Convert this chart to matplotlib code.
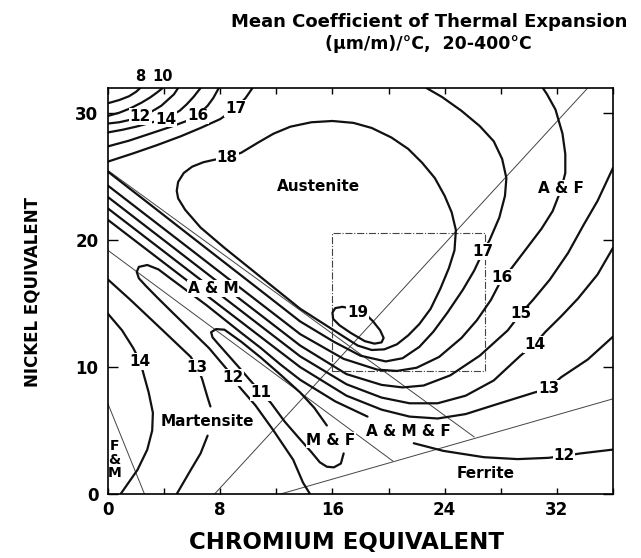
import matplotlib.pyplot as plt

plt.rcParams['font.family'] = ['DejaVu Sans']
plt.rcParams['font.weight'] = 'bold'

# iso-expansion lines, (Cr eq, Ni eq) points
c8_x = [0, 0.8, 1.5, 2.0, 2.3]
c8_y = [30.8, 31.05, 31.35, 31.7, 32.0]
c10_x = [0, 0.8, 1.6, 2.4, 3.0, 3.5, 3.9]
c10_y = [29.8, 30.05, 30.4, 30.85, 31.25, 31.65, 32.0]
c12_top_x = [0, 0.8, 1.6, 2.4, 3.2, 3.8, 4.3, 4.7, 5.0]
c12_top_y = [29.2, 29.3, 29.5, 29.8, 30.2, 30.6, 31.1, 31.5, 32.0]
c14_top_x = [0, 1.0, 2.0, 3.0, 4.1, 5.1, 5.6, 6.1, 6.6]
c14_top_y = [28.5, 28.7, 28.95, 29.25, 29.6, 30.2, 30.7, 31.3, 32.0]
c16_top_x = [0, 1.5, 3.0, 4.5, 5.6, 6.4, 7.1, 7.5, 7.9]
c16_top_y = [27.4, 27.85, 28.4, 28.95, 29.4, 29.85, 30.6, 31.2, 32.0]
c17_top_x = [0, 1.8, 3.5, 5.2, 6.6, 8.0, 9.1, 9.8, 10.3]
c17_top_y = [26.2, 26.85, 27.5, 28.2, 28.85, 29.55, 30.4, 31.2, 32.0]

c18_x = [8.5, 9.5, 10.7, 11.8, 13.0, 14.5, 16.0, 17.5, 18.8, 20.2, 21.4, 22.4, 23.3, 24.0, 24.5,
         24.8, 24.7, 24.3, 23.7, 23.0, 22.2, 21.4, 20.6, 19.7, 18.8, 17.8, 16.1, 13.7, 10.1, 8.3,
         6.6, 5.5, 5.0, 4.9, 5.0, 5.4, 6.0, 6.8, 7.6, 8.5]
c18_y = [26.5, 26.9, 27.7, 28.4, 28.95, 29.3, 29.4, 29.25, 28.85, 28.1, 27.2, 26.1, 24.9, 23.5, 22.2,
         20.8, 19.2, 17.8, 16.2, 14.6, 13.4, 12.5, 11.8, 11.4, 11.35, 11.7, 12.9, 14.6, 17.8, 19.4,
         21.0, 22.4, 23.3, 23.9, 24.6, 25.3, 25.8, 26.15, 26.35, 26.5]
c19_x = [16.7, 17.5, 18.3, 18.9, 19.4, 19.65, 19.5, 19.0, 18.3, 17.3, 16.5, 16.05, 16.0, 16.2, 16.7]
c19_y = [14.75, 14.6, 14.25, 13.6, 12.9, 12.3, 11.95, 11.85, 12.05, 12.7, 13.3, 13.8, 14.3, 14.65, 14.75]

c17_x = [0, 3, 6, 9, 11.5, 13.7, 16.1, 18.0, 19.8, 21.0, 22.2, 23.2, 24.2, 25.3, 26.1, 26.7, 27.2,
         27.9, 28.3, 28.4, 28.1, 27.5, 26.5, 25.2, 23.8, 22.7]
c17_y = [25.4, 22.82, 20.23, 17.65, 15.5, 13.6, 12.0, 10.9, 10.45, 10.7, 11.6, 12.8, 14.3, 16.1, 17.6,
         19.0, 20.0, 21.8, 23.5, 24.9, 26.4, 27.8, 29.0, 30.2, 31.3, 32.0]
c16_x = [0, 3, 6, 9, 11.5, 13.7, 16.8, 19.2, 20.6, 22.0, 23.6, 25.2, 26.3, 27.3, 28.1, 28.7, 29.8,
         30.9, 31.7, 32.3, 32.6, 32.6, 32.4, 31.9, 31.3, 31.0]
c16_y = [24.3, 21.74, 19.18, 16.61, 14.48, 12.6, 10.65, 9.8, 9.7, 9.95, 10.8, 12.3, 13.7, 15.3, 17.0,
         17.7, 19.3, 20.9, 22.3, 24.0, 25.3, 26.8, 28.4, 30.3, 31.5, 32.0]
c15_x = [0, 3, 6, 9, 11.5, 13.7, 17.0, 19.5, 21.0, 22.5, 24.4, 26.5, 28.5, 29.4, 30.3, 31.5, 32.8,
         33.9, 34.9, 36.0]
c15_y = [23.4, 20.84, 18.28, 15.71, 13.58, 11.7, 9.45, 8.6, 8.4, 8.55, 9.35, 10.9, 12.9, 14.2, 15.3,
         16.9, 19.0, 21.2, 23.1, 25.7]
c14_x = [0, 3, 6, 9, 11.5, 13.7, 17.0, 19.5, 21.5, 23.5, 25.5, 27.5, 29.4, 30.4, 31.2, 32.3, 33.5,
         34.9, 36.0]
c14_y = [22.5, 19.95, 17.4, 14.85, 12.72, 10.85, 8.65, 7.6, 7.15, 7.15, 7.75, 8.95, 10.9, 11.8, 12.8,
         14.0, 15.4, 17.3, 19.4]
c13_x = [0, 3, 6, 9, 11.5, 13.7, 17.0, 19.5, 21.5, 23.5, 25.5, 27.5, 30.4, 31.4, 32.3, 34.2, 36.0]
c13_y = [21.6, 19.06, 16.52, 13.98, 11.86, 10.0, 7.75, 6.65, 6.1, 5.95, 6.3, 7.0, 8.0, 8.3, 9.2,
         10.6, 12.4]

# 12 lobe (lower arm from the axis, round the tip, upper arm down to A & M & F)
c12_x = [14.4, 13.9, 13.2, 11.8, 10.5, 9.4, 8.5, 7.2, 5.9, 4.6, 3.5, 2.7, 2.2, 2.05, 2.2, 2.8,
         3.6, 4.5, 7.0, 9.5, 10.9, 12.3, 13.7, 16.2, 18.5]
c12_y = [0, 0.9, 2.7, 5.0, 7.0, 8.4, 9.8, 11.5, 12.9, 14.3, 15.5, 16.4, 17.0, 17.5, 17.9, 18.05,
         17.7, 16.95, 14.9, 12.7, 11.5, 10.2, 9.0, 7.3, 6.1]
c12_right_x = [21.8, 23.9, 26.8, 29.2, 31.4, 32.5, 33.7, 36.0]
c12_right_y = [4.0, 3.4, 2.9, 2.75, 2.85, 3.0, 3.2, 3.5]
c11_x = [15.6, 14.7, 13.7, 12.3, 10.9, 9.5, 8.3, 7.7, 7.35, 7.45, 7.8, 8.6, 9.4, 10.1, 10.9, 11.6,
         12.6, 13.7, 14.5, 15.1, 15.6, 16.1, 16.6, 16.8]
c11_y = [5.4, 6.8, 8.0, 9.4, 10.75, 12.0, 12.95, 13.0, 12.75, 12.35, 11.9, 10.9, 9.9, 9.0, 8.0, 7.2,
         5.7, 4.3, 3.3, 2.5, 2.15, 2.1, 2.4, 3.2]
c13_left_x = [0, 1.6, 3.9, 5.9, 6.4, 6.7, 7.1, 7.3]
c13_left_y = [16.9, 15.3, 12.9, 10.8, 9.9, 9.1, 7.6, 6.9]
c13_low_x = [7.1, 6.6, 5.9, 4.9]
c13_low_y = [4.6, 3.2, 1.9, 0]
c14_left_x = [0, 1.0, 1.8, 2.3, 2.5, 2.9, 3.2, 3.15, 2.8, 2.1, 0.9]
c14_left_y = [14.2, 12.9, 11.5, 10.4, 9.6, 8.0, 6.4, 5.0, 3.5, 1.9, 0]

# phase boundaries of the constitution diagram
am_x, am_y = [0, 26.1], [25.5, 4.5]
m_x, m_y = [0, 20.3], [19.2, 2.6]
af_x, af_y = [7.6, 34.2], [0, 32]
fer_x, fer_y = [12.3, 36], [0, 7.5]
fm_x, fm_y = [0, 2.6], [7.1, 0]
rect_x = [16, 26.9, 26.9, 16, 16]
rect_y = [9.7, 9.7, 20.6, 20.6, 9.7]

curve_labels = [('12', 2.3, 29.75), ('14', 4.1, 29.55), ('16', 6.4, 29.8), ('17', 9.1, 30.4),
                ('18', 8.5, 26.5), ('19', 17.8, 14.3), ('17', 26.7, 19.1), ('16', 28.1, 17.1),
                ('15', 29.4, 14.2), ('14', 30.4, 11.8), ('13', 31.4, 8.3), ('12', 32.5, 3.0),
                ('14', 2.25, 10.45), ('13', 6.35, 9.95), ('12', 8.9, 9.2), ('11', 10.9, 8.0)]
phase_labels = [('Austenite', 15.0, 24.2), ('A & F', 32.3, 24.1), ('A & M', 7.5, 16.2),
                ('Martensite', 7.1, 5.7), ('M & F', 15.9, 4.25), ('A & M & F', 21.4, 4.9),
                ('Ferrite', 26.9, 1.6)]

fig = plt.figure(figsize=(6.41, 5.58), dpi=100)
ax = fig.add_axes([0.1685, 0.1147, 0.7878, 0.7276])

thin = [(am_x, am_y), (m_x, m_y), (af_x, af_y), (fer_x, fer_y), (fm_x, fm_y)]
for x, y in thin:
    ax.plot(x, y, color='#444444', lw=0.7, zorder=1)
ax.plot(rect_x, rect_y, color='#444444', lw=0.8, ls='-.', zorder=1)

curves = [(c8_x, c8_y), (c10_x, c10_y), (c12_top_x, c12_top_y), (c14_top_x, c14_top_y),
          (c16_top_x, c16_top_y), (c17_top_x, c17_top_y), (c18_x, c18_y), (c19_x, c19_y),
          (c17_x, c17_y), (c16_x, c16_y), (c15_x, c15_y), (c14_x, c14_y), (c13_x, c13_y),
          (c12_x, c12_y), (c12_right_x, c12_right_y), (c11_x, c11_y),
          (c13_left_x, c13_left_y), (c13_low_x, c13_low_y), (c14_left_x, c14_left_y)]
for x, y in curves:
    ax.plot(x, y, color='#111111', lw=1.6, solid_capstyle='round', zorder=2)

box = dict(facecolor='white', edgecolor='none', pad=0.5)
for t, x, y in curve_labels:
    ax.text(x, y, t, ha='center', va='center', fontsize=11, fontweight='bold', bbox=box, zorder=3)
for t, x, y in phase_labels:
    ax.text(x, y, t, ha='center', va='center', fontsize=11, fontweight='bold', bbox=box, zorder=3)
ax.text(0.45, 2.7, 'F\n&\nM', ha='center', va='center', fontsize=10, fontweight='bold',
        linespacing=0.95, zorder=3)
ax.text(2.3, 32.9, '8', ha='center', va='center', fontsize=10.5, fontweight='bold')
ax.text(3.9, 32.9, '10', ha='center', va='center', fontsize=10.5, fontweight='bold')

ax.set_xlim(0, 36)
ax.set_ylim(0, 32)
ax.set_xticks(range(0, 37, 4))
ax.set_xticklabels(['0', '', '8', '', '16', '', '24', '', '32', ''])
ax.set_yticks([0, 10, 20, 30])
ax.tick_params(axis='x', direction='in', top=True, length=4, width=1, pad=5, labelsize=12)
ax.tick_params(axis='y', direction='in', right=True, length=7, width=1, pad=7, labelsize=12)
for lab in ax.get_xticklabels() + ax.get_yticklabels():
    lab.set_fontweight('bold')
for s in ax.spines.values():
    s.set_linewidth(1.2)

fig.text(0.669, 0.9606, 'Mean Coefficient of Thermal Expansion', ha='center', va='center',
         fontsize=13, fontweight='bold')
fig.text(0.668, 0.921, '(\u00b5m/m)/\u00b0C,  20-400\u00b0C', ha='center', va='center',
         fontsize=12.5, fontweight='bold')
fig.text(0.541, 0.027, 'CHROMIUM EQUIVALENT', ha='center', va='center', fontsize=16.5,
         fontweight='bold')
fig.text(0.05, 0.477, 'NICKEL EQUIVALENT', ha='center', va='center', rotation=90, fontsize=12,
         fontweight='bold')

fig.savefig('out.png', dpi=100)
